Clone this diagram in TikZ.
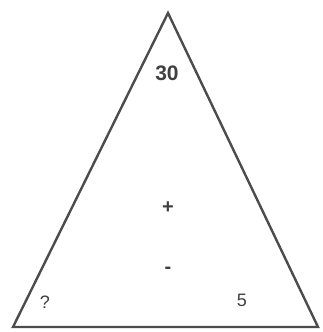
\documentclass[tikz,border=0pt]{standalone}
\usepackage{fontspec}
\setmainfont{Liberation Sans}
\begin{document}
\begin{tikzpicture}[x=1pt,y=-1pt,
  tri/.style={draw=black!70, line width=2.4pt, line join=miter},
  lbl/.style={inner sep=0pt, text=black!75, font=\fontsize{18}{18}\selectfont}]
\useasboundingbox (0,0) rectangle (323,332);
\coordinate (apex) at (168,13);
\coordinate (bl) at (13,327);
\coordinate (br) at (318,327);
\draw[tri] (apex) -- (bl) -- (br) -- cycle;
\node[lbl, font=\fontsize{21}{21}\selectfont\bfseries] (top) at (167,73) {30};
\node[lbl, font=\fontsize{20}{20}\selectfont\bfseries] (plus) at (168,208) {+};
\node[lbl, font=\fontsize{20}{20}\selectfont\bfseries] (minus) at (168,270) {-};
\node[lbl] (q) at (45,302) {?};
\node[lbl] (five) at (242,300) {5};
\end{tikzpicture}
\end{document}
